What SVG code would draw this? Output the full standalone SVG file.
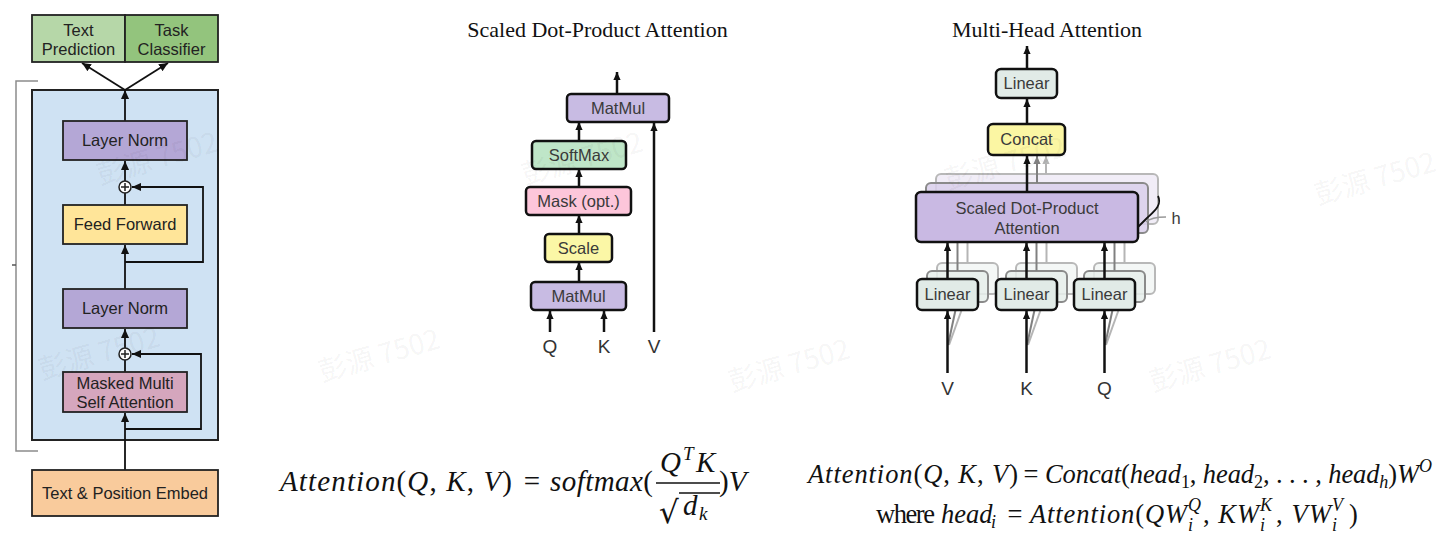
<svg xmlns="http://www.w3.org/2000/svg" width="1450" height="544" viewBox="0 0 1450 544">
<style>
.bx{stroke:#222;stroke-width:1.8}
.rb{stroke:#111;stroke-width:2.5}
.gh1{stroke:#8a8a8a;stroke-width:2;fill-opacity:0.85}
.gh2{stroke:#b8b8b8;stroke-width:2;fill-opacity:0.7}
.lbl{font-family:"Liberation Sans",Arial,sans-serif;font-size:16.5px;fill:#222;text-anchor:middle}
.lb2{font-family:"Liberation Sans",Arial,sans-serif;font-size:16.5px;fill:#3a3a3a;text-anchor:middle}
.io{font-family:"Liberation Sans",Arial,sans-serif;font-size:19px;fill:#333;text-anchor:middle}
.title{font-family:"Liberation Serif","Times New Roman",serif;font-size:22px;fill:#111;text-anchor:middle}
.c1{stroke:#111;stroke-width:1.8;fill:none}
.c2{stroke:#111;stroke-width:2.5;fill:none}
.cg1{stroke:#808080;stroke-width:2;fill:none}
.cg2{stroke:#b5b5b5;stroke-width:2;fill:none}
.m{font-family:"Liberation Serif","Times New Roman",serif;font-style:italic;fill:#111}
.up{font-style:normal}
.wm{font-family:"Noto Sans CJK SC","Liberation Sans",sans-serif;font-size:28px;fill:#000;fill-opacity:0.055}
</style>
<defs>
<marker id="a1" viewBox="0 0 10 10" refX="10" refY="5" markerWidth="9" markerHeight="9" markerUnits="userSpaceOnUse" orient="auto"><path d="M0,0.5 L10,5 L0,9.5 z" fill="#111"/></marker>
<marker id="a2" viewBox="0 0 10 10" refX="10" refY="5" markerWidth="9" markerHeight="8" markerUnits="userSpaceOnUse" orient="auto"><path d="M0,0.5 L10,5 L0,9.5 z" fill="#111"/></marker>
<marker id="ag1" viewBox="0 0 10 10" refX="10" refY="5" markerWidth="9" markerHeight="8" markerUnits="userSpaceOnUse" orient="auto"><path d="M0,0.5 L10,5 L0,9.5 z" fill="#808080"/></marker>
<marker id="ag2" viewBox="0 0 10 10" refX="10" refY="5" markerWidth="9" markerHeight="8" markerUnits="userSpaceOnUse" orient="auto"><path d="M0,0.5 L10,5 L0,9.5 z" fill="#b5b5b5"/></marker>
</defs>
<rect width="1450" height="544" fill="#ffffff"/>

<!-- bracket annotation -->
<g id="bracket" stroke="#8c8c8c" stroke-width="1.5" fill="none">
<path d="M38,81 H16 V451 H38"/>
<line x1="12" y1="265" x2="16" y2="265" stroke="#555"/>
</g>

<!-- background containers / ghost layers -->
<g id="decoder-block"><rect x="32" y="90" width="186" height="350" fill="#cfe2f3" stroke="#222" stroke-width="2"/></g>
<g id="sdpa-ghosts">
<rect x="936" y="174" width="222" height="50" rx="5" fill="#ebe6f4" class="gh2"/>
<rect x="926" y="183" width="222" height="50" rx="5" fill="#d9cfeb" class="gh1"/>
</g>
<g id="linear-ghosts">
<rect x="937" y="263" width="61" height="31" rx="5" fill="#f0f4f2" class="gh2"/>
<rect x="927" y="271" width="61" height="31" rx="5" fill="#e6eeeb" class="gh1"/>
<rect x="1016" y="263" width="61" height="31" rx="5" fill="#f0f4f2" class="gh2"/>
<rect x="1006" y="271" width="61" height="31" rx="5" fill="#e6eeeb" class="gh1"/>
<rect x="1094" y="263" width="61" height="31" rx="5" fill="#f0f4f2" class="gh2"/>
<rect x="1084" y="271" width="61" height="31" rx="5" fill="#e6eeeb" class="gh1"/>
</g>

<!-- connectors -->
<g id="connectors">
<!-- left panel -->
<line class="c1" x1="125" y1="470" x2="125" y2="413" marker-end="url(#a1)"/>
<path class="c1" d="M125,429 H201 V354 H132" marker-end="url(#a1)"/>
<line class="c1" x1="125" y1="372" x2="125" y2="360"/>
<line class="c1" x1="125" y1="348" x2="125" y2="329" marker-end="url(#a1)"/>
<line class="c1" x1="125" y1="289" x2="125" y2="245" marker-end="url(#a1)"/>
<path class="c1" d="M125,262 H203 V187 H132" marker-end="url(#a1)"/>
<line class="c1" x1="125" y1="205" x2="125" y2="193"/>
<line class="c1" x1="125" y1="181" x2="125" y2="161" marker-end="url(#a1)"/>
<line class="c1" x1="125" y1="121" x2="125" y2="90" marker-end="url(#a1)"/>
<line class="c1" x1="125" y1="90" x2="82" y2="63" marker-end="url(#a1)"/>
<line class="c1" x1="125" y1="90" x2="168" y2="63" marker-end="url(#a1)"/>
<!-- middle panel -->
<line class="c2" x1="617" y1="94" x2="617" y2="72" marker-end="url(#a2)"/>
<line class="c2" x1="579" y1="141" x2="579" y2="122" marker-end="url(#a2)"/>
<line class="c2" x1="579" y1="187" x2="579" y2="169" marker-end="url(#a2)"/>
<line class="c2" x1="579" y1="234" x2="579" y2="215" marker-end="url(#a2)"/>
<line class="c2" x1="579" y1="282" x2="579" y2="262" marker-end="url(#a2)"/>
<line class="c2" x1="550" y1="332" x2="550" y2="311" marker-end="url(#a2)"/>
<line class="c2" x1="604" y1="332" x2="604" y2="311" marker-end="url(#a2)"/>
<line class="c2" x1="654" y1="332" x2="654" y2="123" marker-end="url(#a2)"/>
<!-- right panel ghosts -->
<line class="cg2" x1="1046" y1="174" x2="1046" y2="156" marker-end="url(#ag2)"/>
<line class="cg1" x1="1037" y1="183" x2="1037" y2="156" marker-end="url(#ag1)"/>
<line class="cg2" x1="967.5" y1="263" x2="967.5" y2="225"/>
<line class="cg1" x1="957.5" y1="271" x2="957.5" y2="234"/>
<line class="cg2" x1="1046.5" y1="263" x2="1046.5" y2="225"/>
<line class="cg1" x1="1036.5" y1="271" x2="1036.5" y2="234"/>
<line class="cg2" x1="1124.5" y1="263" x2="1124.5" y2="225"/>
<line class="cg1" x1="1114.5" y1="271" x2="1114.5" y2="234"/>
<line class="cg2" x1="949" y1="345" x2="967" y2="295"/>
<line class="cg1" x1="948" y1="345" x2="957" y2="303"/>
<line class="cg2" x1="1028" y1="345" x2="1046" y2="295"/>
<line class="cg1" x1="1027" y1="345" x2="1036" y2="303"/>
<line class="cg2" x1="1106" y1="345" x2="1124" y2="295"/>
<line class="cg1" x1="1105" y1="345" x2="1114" y2="303"/>
<!-- right panel main -->
<line class="c2" x1="1027" y1="69" x2="1027" y2="46" marker-end="url(#a2)"/>
<line class="c2" x1="1027" y1="124" x2="1027" y2="99" marker-end="url(#a2)"/>
<line class="c2" x1="1027" y1="192" x2="1027" y2="156" marker-end="url(#a2)"/>
<line class="c2" x1="947.5" y1="279" x2="947.5" y2="243" marker-end="url(#a2)"/>
<line class="c2" x1="1026.5" y1="279" x2="1026.5" y2="243" marker-end="url(#a2)"/>
<line class="c2" x1="1104.5" y1="279" x2="1104.5" y2="243" marker-end="url(#a2)"/>
<line class="c2" x1="947.5" y1="373" x2="947.5" y2="311" marker-end="url(#a2)"/>
<line class="c2" x1="1026.5" y1="373" x2="1026.5" y2="311" marker-end="url(#a2)"/>
<line class="c2" x1="1104.5" y1="373" x2="1104.5" y2="311" marker-end="url(#a2)"/>
<!-- h brace -->
<path d="M1158,196 C1163,206 1152,213 1146,219 L1136,229 C1133,232 1131,233 1128,232" stroke="#111" stroke-width="1.8" fill="none"/>
<path d="M1146,222 C1150,218 1156,217 1166,217" stroke="#999" stroke-width="1.5" fill="none"/>
</g>

<!-- left panel nodes -->
<g id="out-text"><rect x="32" y="15" width="93" height="47" fill="#b6d7a8" class="bx"/><text class="lbl" x="78.5" y="36">Text</text><text class="lbl" x="78.5" y="55">Prediction</text></g>
<g id="out-task"><rect x="125" y="15" width="93" height="47" fill="#93c47d" class="bx"/><text class="lbl" x="171.5" y="36">Task</text><text class="lbl" x="171.5" y="55">Classifier</text></g>
<g id="ln-top"><rect x="63" y="121" width="124" height="39" fill="#b4a7d6" class="bx"/><text class="lbl" x="125" y="146">Layer Norm</text></g>
<g id="add-top"><circle cx="125" cy="187" r="6" fill="#fff" stroke="#222" stroke-width="1.5"/><path d="M121,187 H129 M125,183 V191" stroke="#222" stroke-width="1.5"/></g>
<g id="ffn"><rect x="63" y="205" width="124" height="39" fill="#ffe599" class="bx"/><text class="lbl" x="125" y="230">Feed Forward</text></g>
<g id="ln-bottom"><rect x="63" y="289" width="124" height="39" fill="#b4a7d6" class="bx"/><text class="lbl" x="125" y="314">Layer Norm</text></g>
<g id="add-bottom"><circle cx="125" cy="354" r="6" fill="#fff" stroke="#222" stroke-width="1.5"/><path d="M121,354 H129 M125,350 V358" stroke="#222" stroke-width="1.5"/></g>
<g id="masked-attn"><rect x="63" y="372" width="124" height="40" fill="#d5a6bd" class="bx"/><text class="lbl" x="125" y="389">Masked Multi</text><text class="lbl" x="125" y="408">Self Attention</text></g>
<g id="embed"><rect x="32" y="470" width="186" height="46" fill="#f9cb9c" class="bx"/><text class="lbl" x="125" y="499">Text &amp; Position Embed</text></g>

<!-- middle panel -->
<g id="sdpa-title"><text class="title" x="597.5" y="37">Scaled Dot-Product Attention</text></g>
<g id="matmul-top"><rect x="567" y="94" width="102" height="28" rx="4" fill="#c8bbe3" class="rb"/><text class="lb2" x="618" y="114">MatMul</text></g>
<g id="softmax"><rect x="532" y="141" width="94" height="28" rx="4" fill="#bfe6c8" class="rb"/><text class="lb2" x="579" y="161">SoftMax</text></g>
<g id="mask"><rect x="526" y="187" width="105" height="28" rx="4" fill="#fdc6da" class="rb"/><text class="lb2" x="578.5" y="207">Mask (opt.)</text></g>
<g id="scale"><rect x="545" y="234" width="67" height="28" rx="4" fill="#fbf7a6" class="rb"/><text class="lb2" x="578.5" y="254">Scale</text></g>
<g id="matmul-bottom"><rect x="531" y="282" width="95" height="28" rx="4" fill="#c8bbe3" class="rb"/><text class="lb2" x="578.5" y="302">MatMul</text></g>
<g id="in-q"><text class="io" x="550" y="353">Q</text></g>
<g id="in-k"><text class="io" x="604" y="353">K</text></g>
<g id="in-v"><text class="io" x="654" y="353">V</text></g>

<!-- right panel -->
<g id="mha-title"><text class="title" x="1047" y="37">Multi-Head Attention</text></g>
<g id="linear-out"><rect x="996" y="69" width="61" height="29" rx="5" fill="#e1ebe7" class="rb"/><text class="lb2" x="1026.5" y="89">Linear</text></g>
<g id="concat"><rect x="988" y="124" width="77" height="31" rx="5" fill="#fbf6a3" class="rb"/><text class="lb2" x="1026.5" y="145">Concat</text></g>
<g id="sdpa-block"><rect x="916" y="192" width="222" height="50" rx="5" fill="#c9b9e3" class="rb"/><text class="lb2" x="1027" y="214">Scaled Dot-Product</text><text class="lb2" x="1027" y="234">Attention</text></g>
<g id="linear-v"><rect x="917" y="279" width="61" height="31" rx="5" fill="#e1ebe7" class="rb"/><text class="lb2" x="947.5" y="300">Linear</text></g>
<g id="linear-k"><rect x="996" y="279" width="61" height="31" rx="5" fill="#e1ebe7" class="rb"/><text class="lb2" x="1026.5" y="300">Linear</text></g>
<g id="linear-q"><rect x="1074" y="279" width="61" height="31" rx="5" fill="#e1ebe7" class="rb"/><text class="lb2" x="1104.5" y="300">Linear</text></g>
<g id="h-label"><text class="lb2" x="1176" y="224">h</text></g>
<g id="mh-v"><text class="io" x="947.5" y="395">V</text></g>
<g id="mh-k"><text class="io" x="1026.5" y="395">K</text></g>
<g id="mh-q"><text class="io" x="1104.5" y="395">Q</text></g>

<!-- formula left -->
<g id="formula-sdpa" class="m" font-size="29">
<text x="280" y="491" textLength="232" lengthAdjust="spacing">Attention<tspan class="up">(</tspan>Q<tspan class="up">, </tspan>K<tspan class="up">, </tspan>V<tspan class="up">)</tspan></text>
<text x="532" y="491" class="up" text-anchor="middle">=</text>
<text x="550" y="491" textLength="103" lengthAdjust="spacing">softmax<tspan class="up">(</tspan></text>
<text x="660" y="472">Q</text>
<text x="683" y="460" font-size="19">T</text>
<text x="696" y="472">K</text>
<line x1="656" y1="483" x2="720" y2="483" stroke="#111" stroke-width="1.3"/>
<text x="659" y="523" class="up" font-family="DejaVu Serif, serif" font-size="31">√</text>
<line x1="679" y1="493" x2="720" y2="493" stroke="#111" stroke-width="1.3"/>
<text x="683" y="515">d</text>
<text x="699" y="520" font-size="19">k</text>
<text x="719" y="491"><tspan class="up">)</tspan>V</text>
</g>

<!-- formula right -->
<g id="formula-mha" class="m" font-size="26.5">
<text x="808" y="483" textLength="210" lengthAdjust="spacing">Attention<tspan class="up">(</tspan>Q<tspan class="up">, </tspan>K<tspan class="up">, </tspan>V<tspan class="up">)</tspan></text>
<text x="1031" y="483" class="up" text-anchor="middle">=</text>
<text x="1045" y="483" textLength="387" lengthAdjust="spacing">Concat<tspan class="up">(</tspan>head<tspan font-size="18" class="up" dy="5">1</tspan><tspan class="up" dy="-5">, </tspan>head<tspan font-size="18" class="up" dy="5">2</tspan><tspan class="up" dy="-5">, . . . , </tspan>head<tspan font-size="18" dy="5">h</tspan><tspan class="up" dy="-5">)</tspan>W<tspan font-size="18" dy="-11">O</tspan></text>
<text x="876" y="523" class="up" textLength="59" lengthAdjust="spacing">where</text>
<text x="941" y="523">head</text>
<text x="991" y="528" font-size="18">i</text>
<text x="1015" y="523" class="up" text-anchor="middle">=</text>
<text x="1030" y="523" textLength="157" lengthAdjust="spacing">Attention<tspan class="up">(</tspan>QW</text>
<text x="1188" y="511" font-size="18">Q</text>
<text x="1188" y="531" font-size="18">i</text>
<text x="1203" y="523" textLength="56" lengthAdjust="spacing"><tspan class="up">, </tspan>KW</text>
<text x="1260" y="511" font-size="18">K</text>
<text x="1260" y="531" font-size="18">i</text>
<text x="1276" y="523" textLength="55" lengthAdjust="spacing"><tspan class="up">, </tspan>VW</text>
<text x="1332" y="511" font-size="18">V</text>
<text x="1332" y="531" font-size="18">i</text>
<text x="1349" y="523" class="up">)</text>
</g>

<!-- watermarks -->
<g id="watermarks">
<text class="wm" transform="translate(100,185) rotate(-16)">彭源 7502</text>
<text class="wm" transform="translate(42,380) rotate(-16)" font-size="24">彭源 7502</text>
<text class="wm" transform="translate(322,382) rotate(-16)">彭源 7502</text>
<text class="wm" transform="translate(525,185) rotate(-16)">彭源 7502</text>
<text class="wm" transform="translate(732,392) rotate(-16)">彭源 7502</text>
<text class="wm" transform="translate(948,190) rotate(-16)">彭源 7502</text>
<text class="wm" transform="translate(1153,392) rotate(-16)">彭源 7502</text>
<text class="wm" transform="translate(1318,205) rotate(-16)">彭源 7502</text>
</g>
</svg>
